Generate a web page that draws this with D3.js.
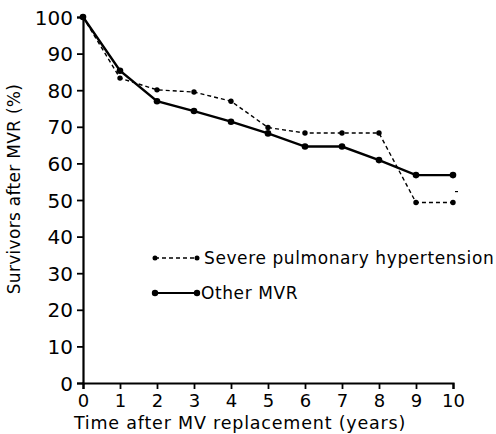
<!DOCTYPE html>
<html><head><meta charset="utf-8">
<script src="https://cdn.jsdelivr.net/npm/d3@7"></script>
<style>body{margin:0;background:#fff}svg{display:block}text{font-family:"DejaVu Sans",sans-serif;fill:#000}</style>
</head><body><svg id="c" width="496" height="434"></svg>
<script>
const years = [0,1,2,3,4,5,6,7,8,9,10];
const severePH = [100,83.3,80.1,79.5,77.0,69.8,68.3,68.3,68.3,49.3,49.3];
const otherMVR = [100,85.3,77.0,74.3,71.4,68.2,64.6,64.6,60.9,56.8,56.8];
const yTicks = [0,10,20,30,40,50,60,70,80,90,100];
const xTicks = [0,1,2,3,4,5,6,7,8,9,10];
const seriesNames = ["Severe pulmonary hypertension","Other MVR"];

const svg = d3.select("#c");
const x = d3.scaleLinear().domain([0,10]).range([83,453]);
const y = d3.scaleLinear().domain([0,100]).range([383,17]);

const yAxis = svg.append("g").attr("transform","translate(83,0)")
  .call(d3.axisLeft(y).tickValues(yTicks).tickSize(6).tickPadding(4));
const xAxis = svg.append("g").attr("transform","translate(0,383)")
  .call(d3.axisBottom(x).tickValues(xTicks).tickSize(6).tickPadding(5));
[yAxis,xAxis].forEach(g=>{
  g.select(".domain").attr("stroke","#000").attr("stroke-width",2.2);
  g.selectAll(".tick line").attr("stroke","#000").attr("stroke-width",1.8);
  g.selectAll(".tick text").style("font-family","'DejaVu Sans',sans-serif").attr("fill","#000");
});
yAxis.selectAll(".tick text").style("font-size","20px").attr("dy","0.35em");
xAxis.selectAll(".tick text").style("font-size","18px");

const line = d3.line().x((d,i)=>x(years[i])).y(d=>y(d));
svg.append("path").datum(severePH).attr("d",line).attr("fill","none")
  .attr("stroke","#000").attr("stroke-width",1.4).attr("stroke-dasharray","4,3");
svg.append("path").datum(otherMVR).attr("d",line).attr("fill","none")
  .attr("stroke","#000").attr("stroke-width",2.4);
svg.selectAll(".ps").data(severePH).enter().append("circle")
  .attr("cx",(d,i)=>x(years[i])).attr("cy",d=>y(d)).attr("r",2.7).attr("fill","#000");
svg.selectAll(".po").data(otherMVR).enter().append("circle")
  .attr("cx",(d,i)=>x(years[i])).attr("cy",d=>y(d)).attr("r",3.3).attr("fill","#000");

// small stray mark
svg.append("line").attr("x1",x(10)+2).attr("x2",x(10)+5).attr("y1",y(52.3)).attr("y2",y(52.3))
  .attr("stroke","#000").attr("stroke-width",1.2);

// legend
const lg = [{y:258,dash:"4,3",w:1.3,r:2.5},{y:293,dash:null,w:2,r:3.2}];
lg.forEach((l,i)=>{
  svg.append("line").attr("x1",155).attr("x2",197).attr("y1",l.y).attr("y2",l.y)
    .attr("stroke","#000").attr("stroke-width",l.w).attr("stroke-dasharray",l.dash);
  svg.append("circle").attr("cx",155).attr("cy",l.y).attr("r",l.r).attr("fill","#000");
  svg.append("circle").attr("cx",197).attr("cy",l.y).attr("r",l.r).attr("fill","#000");
  svg.append("text").attr("x",i===0?204:201).attr("y",l.y).attr("dy","0.35em")
    .style("font-size","17px").style("letter-spacing","0.6px").text(seriesNames[i]);
});

svg.append("text").attr("x",240).attr("y",429).attr("text-anchor","middle")
  .style("font-size","17.5px").style("letter-spacing","0.8px").text("Time after MV replacement (years)");
svg.append("text").attr("transform","translate(20,189) rotate(-90)").attr("text-anchor","middle")
  .style("font-size","17px").style("letter-spacing","0.3px").text("Survivors after MVR (%)");
</script></body></html>
